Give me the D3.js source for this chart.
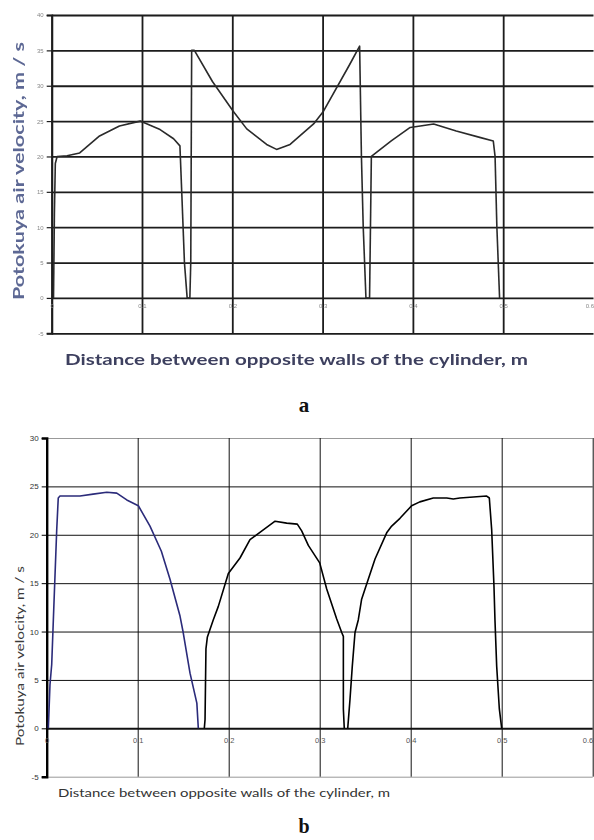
<!DOCTYPE html>
<html>
<head>
<meta charset="utf-8">
<script src="https://cdn.jsdelivr.net/npm/d3@7"></script>
<style>
  html, body { margin: 0; padding: 0; background: #fff; }
  svg { display: block; }
</style>
</head>
<body>
<svg id="chart" width="594" height="840"></svg>
<script>
// ---------------- DATA ----------------
// Chart (a): one continuous profile
const aDist = [0.002, 0.003, 0.004, 0.006, 0.017, 0.031, 0.053, 0.075, 0.098, 0.120, 0.135, 0.142, 0.144, 0.147, 0.150,
               0.153, 0.154, 0.155, 0.158, 0.178, 0.201, 0.216, 0.238, 0.249, 0.264, 0.290, 0.301, 0.330, 0.341,
               0.343, 0.345, 0.348, 0.352, 0.353, 0.354, 0.376, 0.397, 0.423, 0.448, 0.474, 0.489, 0.491, 0.493, 0.496];
const aVel  = [0, 12, 19, 20, 20.1, 20.5, 22.9, 24.3, 25, 23.8, 22.5, 21.5, 15, 5, 0,
               0, 5, 35, 35, 30.6, 26.4, 23.9, 21.7, 21.0, 21.7, 24.6, 26.4, 33.0, 35.6,
               20, 10, 0, 0, 10, 20, 22.2, 24.1, 24.6, 23.6, 22.7, 22.2, 20, 10, 0];

// Chart (b): three profiles
const bBlueDist = [0.0018, 0.0036, 0.0055, 0.0073, 0.011, 0.0127, 0.0146, 0.0366, 0.051, 0.066, 0.077, 0.088, 0.1007,
                   0.1135, 0.126, 0.1355, 0.1465, 0.150, 0.1575, 0.165, 0.1666];
const bBlueVel  = [0, 4.5, 6.6, 11.2, 20.5, 23.8, 24.0, 24.0, 24.2, 24.4, 24.3, 23.6, 23.0,
                   20.9, 18.3, 15.4, 11.6, 9.9, 5.7, 2.6, 0];

const bMidDist = [0.1732, 0.174, 0.175, 0.1765, 0.183, 0.1886, 0.1996, 0.2124, 0.2234, 0.238, 0.251, 0.2637, 0.2754,
                  0.2802, 0.2875, 0.300, 0.3077, 0.3187, 0.3242, 0.326, 0.326, 0.327];
const bMidVel  = [0, 0.9, 8.2, 9.4, 11.2, 12.6, 16.0, 17.6, 19.5, 20.5, 21.4, 21.2, 21.1,
                  20.4, 18.9, 17.1, 14.4, 11.3, 9.9, 9.5, 2.0, 0];

const bRightDist = [0.3308, 0.3333, 0.3358, 0.3388, 0.3424, 0.346, 0.3498, 0.3608, 0.3736, 0.3791, 0.3882, 0.401, 0.410,
                    0.4248, 0.4396, 0.4468, 0.454, 0.4688, 0.4835, 0.4864, 0.489, 0.4915, 0.4926, 0.4945, 0.4974, 0.5];
const bRightVel  = [0, 3.0, 6.4, 9.9, 11.2, 13.3, 14.4, 17.5, 20.2, 20.9, 21.7, 23.0, 23.4,
                    23.8, 23.8, 23.7, 23.8, 23.9, 24.0, 23.8, 20.5, 14.7, 11.2, 6.4, 2.0, 0];

const xTicks = [0, 0.1, 0.2, 0.3, 0.4, 0.5, 0.6];
const yTicksA = [-5, 0, 5, 10, 15, 20, 25, 30, 35, 40];
const yTicksB = [-5, 0, 5, 10, 15, 20, 25, 30];

const yTitle = "Potokuya air velocity, m / s";
const xTitle = "Distance between opposite walls of the cylinder, m";

// ---------------- DRAW ----------------
const svg = d3.select("#chart");
const defs = svg.append("defs");
defs.append("filter").attr("id", "blurA").attr("x", "-5%").attr("y", "-5%").attr("width", "110%").attr("height", "110%")
  .append("feGaussianBlur").attr("stdDeviation", 0.7);

const fmt = d => d === 0 ? "0" : String(d);

// ===== Chart a =====
const xA = d3.scaleLinear().domain([0, 0.6]).range([51.7, 593.5]);
const yA = d3.scaleLinear().domain([-5, 40]).range([333.3, 15]);
const gA = svg.append("g").attr("filter", "url(#blurA)");

// horizontal grid
gA.append("g").attr("transform", `translate(${xA(0)},0)`)
  .call(d3.axisLeft(yA).tickValues(yTicksA).tickSize(-(xA(0.6) - xA(0))).tickFormat(""))
  .call(g => g.select(".domain").remove())
  .call(g => g.selectAll("line").attr("stroke", "#1c1c1c").attr("stroke-width", 1.8));
// vertical grid
gA.append("g").attr("transform", `translate(0,${yA(-5)})`)
  .call(d3.axisBottom(xA).tickValues(xTicks.slice(0, 6)).tickSize(-(yA(-5) - yA(40))).tickFormat(""))
  .call(g => g.select(".domain").remove())
  .call(g => g.selectAll("line").attr("stroke", "#1c1c1c").attr("stroke-width", 1.8));
// y ticks + labels
gA.append("g").attr("transform", `translate(${xA(0)},0)`)
  .call(d3.axisLeft(yA).tickValues(yTicksA).tickSize(5).tickPadding(3).tickFormat(fmt))
  .call(g => g.select(".domain").attr("stroke", "#1c1c1c").attr("stroke-width", 2))
  .call(g => g.selectAll("line").attr("stroke", "#1c1c1c").attr("stroke-width", 1.2))
  .call(g => g.selectAll("text").attr("fill", "#888").attr("font-size", 6).attr("font-family", "Liberation Sans, sans-serif"));
// x labels
gA.append("g").attr("transform", `translate(0,${yA(0)})`)
  .call(d3.axisBottom(xA).tickValues(xTicks).tickSize(0).tickPadding(6).tickFormat(fmt))
  .call(g => g.select(".domain").remove())
  .call(g => g.selectAll("text").attr("fill", "#888").attr("font-size", 6).attr("font-family", "Liberation Sans, sans-serif")
    .attr("text-anchor", d => d === 0.6 ? "end" : "middle"));

const lineA = d3.line().x(i => xA(aDist[i])).y(i => yA(aVel[i]));
gA.append("path").attr("d", lineA(d3.range(aDist.length)))
  .attr("fill", "none").attr("stroke", "#2a2a2a").attr("stroke-width", 1.6).attr("stroke-linejoin", "round");

gA.append("text").attr("transform", `translate(24,${(300 + 42) / 2}) rotate(-90)`)
  .attr("text-anchor", "middle").attr("font-family", "Lato, sans-serif").attr("font-weight", "bold")
  .attr("font-size", 16).attr("fill", "#5d6894").attr("textLength", 258).attr("lengthAdjust", "spacingAndGlyphs")
  .text(yTitle);
gA.append("text").attr("x", (65 + 528) / 2).attr("y", 365)
  .attr("text-anchor", "middle").attr("font-family", "Lato, sans-serif").attr("font-weight", "bold")
  .attr("font-size", 16).attr("fill", "#3d3f5e").attr("textLength", 463).attr("lengthAdjust", "spacingAndGlyphs")
  .text(xTitle);

svg.append("text").attr("x", 304).attr("y", 412).attr("text-anchor", "middle")
  .attr("font-family", "Liberation Serif, serif").attr("font-weight", "bold").attr("font-size", 21).attr("fill", "#111")
  .text("a");

// ===== Chart b =====
const xB = d3.scaleLinear().domain([0, 0.6]).range([46.7, 592.7]);
const yB = d3.scaleLinear().domain([-5, 30]).range([776.7, 438]);
const gB = svg.append("g");

// horizontal grid
gB.append("g").attr("transform", `translate(${xB(0)},0)`)
  .call(d3.axisLeft(yB).tickValues(yTicksB).tickSize(-(xB(0.6) - xB(0))).tickFormat(""))
  .call(g => g.select(".domain").remove())
  .call(g => g.selectAll(".tick line")
    .attr("stroke", d => (d === 30 || d === -5) ? "#999" : "#111")
    .attr("stroke-width", d => d === 0 ? 2 : 1));
// vertical grid
gB.append("g").attr("transform", `translate(0,${yB(-5)})`)
  .call(d3.axisBottom(xB).tickValues(xTicks.slice(1)).tickSize(-(yB(-5) - yB(30))).tickFormat(""))
  .call(g => g.select(".domain").remove())
  .call(g => g.selectAll("line").attr("stroke", "#111").attr("stroke-width", 1));
// y ticks + labels
gB.append("g").attr("transform", `translate(${xB(0)},0)`)
  .call(d3.axisLeft(yB).tickValues(yTicksB).tickSize(5).tickPadding(3).tickFormat(fmt))
  .call(g => g.select(".domain").attr("stroke", "#000").attr("stroke-width", 2.4))
  .call(g => g.selectAll("line").attr("stroke", "#000"))
  .call(g => g.selectAll("text").attr("fill", "#333").attr("font-size", 8).attr("font-family", "Liberation Sans, sans-serif"));
// x labels
gB.append("g").attr("transform", `translate(0,${yB(0)})`)
  .call(d3.axisBottom(xB).tickValues(xTicks).tickSize(0).tickPadding(9).tickFormat(fmt))
  .call(g => g.select(".domain").remove())
  .call(g => g.selectAll("text").attr("fill", "#555").attr("font-size", 7.5).attr("font-family", "Liberation Sans, sans-serif")
    .attr("text-anchor", d => d === 0.6 ? "end" : "middle"));

const lineB = d3.line().x(d => xB(d[0])).y(d => yB(d[1]));
gB.append("path").attr("d", lineB(d3.zip(bBlueDist, bBlueVel)))
  .attr("fill", "none").attr("stroke", "#2b2b7a").attr("stroke-width", 1.6).attr("stroke-linejoin", "round");
gB.append("path").attr("d", lineB(d3.zip(bMidDist, bMidVel)))
  .attr("fill", "none").attr("stroke", "#000").attr("stroke-width", 1.6).attr("stroke-linejoin", "round");
gB.append("path").attr("d", lineB(d3.zip(bRightDist, bRightVel)))
  .attr("fill", "none").attr("stroke", "#000").attr("stroke-width", 1.6).attr("stroke-linejoin", "round");

gB.append("text").attr("transform", `translate(24,${(746 + 566) / 2}) rotate(-90)`)
  .attr("text-anchor", "middle").attr("font-family", "Lato, sans-serif")
  .attr("font-size", 12).attr("fill", "#3a3a3a").attr("textLength", 180).attr("lengthAdjust", "spacingAndGlyphs")
  .text(yTitle);
gB.append("text").attr("x", 58).attr("y", 797)
  .attr("text-anchor", "start").attr("font-family", "Lato, sans-serif")
  .attr("font-size", 12).attr("fill", "#333").attr("textLength", 332).attr("lengthAdjust", "spacingAndGlyphs")
  .text(xTitle);

svg.append("text").attr("x", 304).attr("y", 833).attr("text-anchor", "middle")
  .attr("font-family", "Liberation Serif, serif").attr("font-weight", "bold").attr("font-size", 20).attr("fill", "#111")
  .text("b");
</script>
</body>
</html>
